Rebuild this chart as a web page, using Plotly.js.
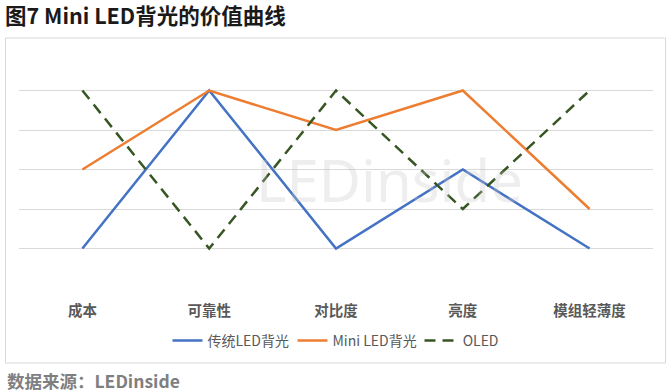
<!DOCTYPE html>
<html>
<head>
<meta charset="utf-8">
<script src="https://cdn.plot.ly/plotly-3.0.1.min.js"></script>
<style>
html,body{margin:0;padding:0;background:#fff;}
#chart{width:672px;height:392px;}
</style>
</head>
<body>
<div id="chart"></div>
<script>
const categories = ['成本', '可靠性', '对比度', '亮度', '模组轻薄度'];
const seriesNames = ['传统LED背光', 'Mini LED背光', ' OLED'];
const traditionalLED = [1, 5, 1, 3, 1];
const miniLED = [3, 5, 4, 5, 2];
const oled = [5, 1, 5, 2, 5];
const chartTitle = '图7 Mini LED背光的价值曲线';
const sourceText = '数据来源：LEDinside';

const FONT = '"Noto Sans CJK SC", "Noto Sans", sans-serif';

const traces = [
  {x: categories, y: traditionalLED, name: seriesNames[0], type: 'scatter', mode: 'lines',
   legendwidth: 80,
   line: {color: '#4472C4', width: 2.5}},
  {x: categories, y: miniLED, name: seriesNames[1], type: 'scatter', mode: 'lines',
   legendwidth: 82,
   line: {color: '#ED7D31', width: 2.5}},
  {x: categories, y: oled, name: seriesNames[2], type: 'scatter', mode: 'lines',
   line: {color: '#375623', width: 2.5, dash: '11px,7px'}}
];

const layout = {
  width: 672, height: 392,
  margin: {l: 18.5, r: 18.5, t: 51, b: 104, pad: 0},
  paper_bgcolor: '#ffffff', plot_bgcolor: '#ffffff',
  font: {family: FONT, color: '#595959'},
  title: {
    text: chartTitle, xref: 'container', yref: 'container',
    x: 0.0075, xanchor: 'left', y: 0.957, yanchor: 'middle',
    font: {family: FONT, size: 21.5, weight: 'bold', color: '#1a1a1a'}
  },
  xaxis: {
    type: 'category', range: [-0.5, 4.5], fixedrange: true,
    showgrid: false, zeroline: false, showline: false, ticks: '',
    ticklabelstandoff: 12,
    tickfont: {family: FONT, size: 14.5, weight: 'bold', color: '#595959'}
  },
  yaxis: {
    range: [0, 6], dtick: 1, tick0: 0, fixedrange: true,
    showticklabels: false, ticks: '', zeroline: false, showline: false,
    gridcolor: '#d9d9d9', gridwidth: 1
  },
  showlegend: true,
  legend: {
    orientation: 'h', x: 0.5, xanchor: 'center', y: -0.2236, yanchor: 'middle',
    font: {family: FONT, size: 14, color: '#595959'},
    traceorder: 'normal', itemwidth: 30, bgcolor: 'rgba(0,0,0,0)'
  },
  shapes: [
    {type: 'rect', xref: 'paper', yref: 'paper', x0: -0.0213, x1: 1.0197, y0: -0.3165, y1: 1.0549,
     line: {color: '#d9d9d9', width: 1}, fillcolor: 'rgba(0,0,0,0)', layer: 'below'}
  ],
  annotations: [
    {text: sourceText, xref: 'paper', yref: 'paper', x: -0.0213, xanchor: 'left',
     y: -0.392, yanchor: 'middle', showarrow: false,
     font: {family: FONT, size: 17.5, weight: 'bold', color: '#7f7f7f'}},
    {text: 'LEDinside', xref: 'paper', yref: 'paper', x: 0.585, xanchor: 'center',
     y: 0.456, yanchor: 'middle', showarrow: false,
     font: {family: '"Noto Sans", sans-serif', size: 58, color: 'rgba(200,200,200,0.3)'}}
  ]
};

Plotly.newPlot('chart', traces, layout, {displayModeBar: false, staticPlot: true});
</script>
</body>
</html>
